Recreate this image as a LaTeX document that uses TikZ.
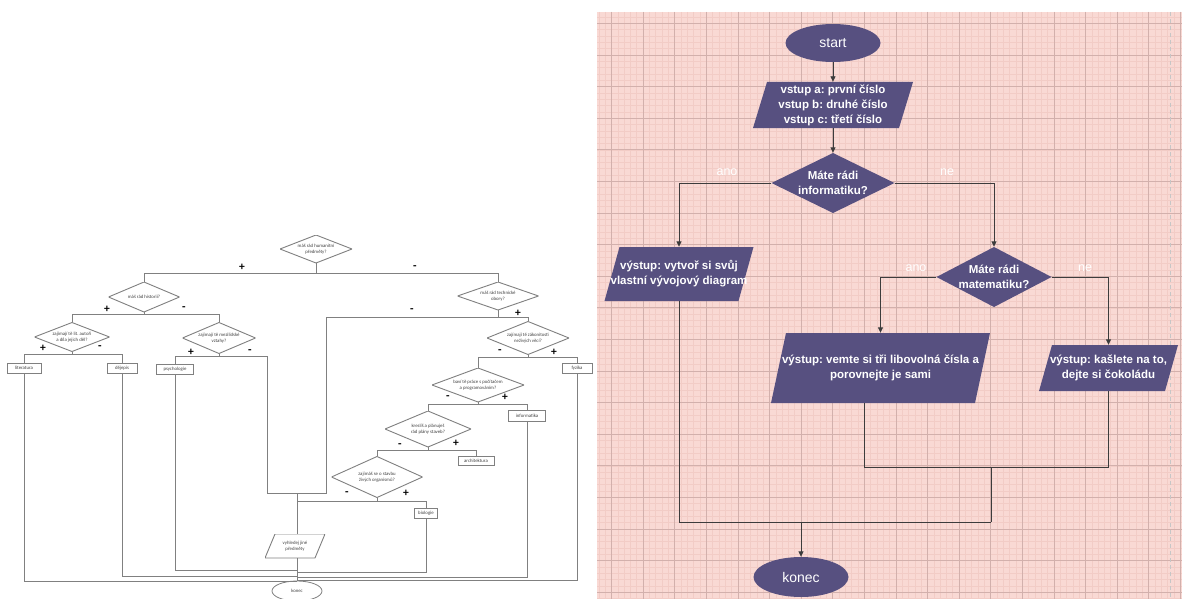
\documentclass[tikz,border=0pt]{standalone}
\usepackage{fontspec}
\setmainfont{Liberation Sans}
\newfontfamily\smallfam{Carlito}
\usetikzlibrary{shapes.geometric,arrows.meta}
\frenchspacing

\definecolor{slate}{HTML}{575080}
\definecolor{gridbg}{HTML}{F9D9D4}
\definecolor{gridminor}{HTML}{F2CCC6}
\definecolor{gridmajor}{HTML}{D2B0AC}
\definecolor{wire}{HTML}{3C3C3C}
\definecolor{lgray}{HTML}{808080}
\definecolor{ltext}{HTML}{404040}

\begin{document}
\begin{tikzpicture}[x=1pt,y=-1pt,
  ioslant/.store in=\iooff, ioslant=14pt,
  % parallelogram drawn inside a plain rectangle node
  para/.style={rectangle, inner sep=0pt, align=center,
    path picture={\path[#1] ([xshift=\iooff]path picture bounding box.north west)
      -- (path picture bounding box.north east)
      -- ([xshift=-\iooff]path picture bounding box.south east)
      -- (path picture bounding box.south west) -- cycle;}},
  % diamond whose tips are the node's compass anchors
  dia/.style={rectangle, inner sep=0pt, align=center,
    path picture={\path[#1] (path picture bounding box.north)
      -- (path picture bounding box.east)
      -- (path picture bounding box.south)
      -- (path picture bounding box.west) -- cycle;}},
  % left chart
  lline/.style={draw=lgray, line width=0.8pt},
  ltxt/.style={font=\smallfam\fontsize{4.8}{5.6}\selectfont, text=ltext},
  ldia/.style={dia={draw=lgray, line width=0.9pt}, ltxt},
  lbox/.style={draw=lgray, line width=0.8pt, inner sep=0pt, minimum height=10pt, ltxt},
  sign/.style={font=\smallfam\bfseries\fontsize{11.5}{11.5}\selectfont, text=black, inner sep=0pt},
  % right chart
  rtxt/.style={text=white, font=\bfseries\fontsize{11.5}{15}\selectfont},
  rdia/.style={dia={fill=slate}, rtxt},
  rpara/.style={para={fill=slate}, rtxt},
  term/.style={ellipse, fill=slate, inner sep=0pt, text=white, font=\fontsize{14}{16}\selectfont},
  wireline/.style={draw=wire, line width=0.9pt},
  arr/.style={wireline, -{Triangle[length=5.5pt,width=5pt]}},
  yn/.style={text=white, font=\fontsize{12.5}{14}\selectfont, inner sep=0pt}
]
\useasboundingbox (0,0) rectangle (1182,599);
\fill[white] (0,0) rectangle (1182,599);

% ---------------- grid paper ----------------
\begin{scope}
  \clip (597,12) rectangle (1182,599);
  \fill[gridbg] (597,12) rectangle (1182,599);
  \foreach \k in {-3,...,92} {\draw[gridminor, line width=0.6pt] ({611.5+6.32*\k},12) -- ({611.5+6.32*\k},599);}
  \foreach \k in {-2,...,92} {\draw[gridminor, line width=0.6pt] (597,{23.4+6.32*\k}) -- (1182,{23.4+6.32*\k});}
  \foreach \k in {-1,...,18} {\draw[gridmajor, line width=0.8pt] ({611.5+31.6*\k},12) -- ({611.5+31.6*\k},599);}
  \foreach \k in {0,...,18} {\draw[gridmajor, line width=0.8pt] (597,{23.4+31.6*\k}) -- (1182,{23.4+31.6*\k});}
  \draw[gray!45, line width=0.8pt, dash pattern=on 4pt off 3pt] (1170,12) -- (1170,599);
\end{scope}

% ---------------- left chart ----------------
\node[ldia, minimum width=72pt, minimum height=28pt] (h1) at (316,249) {máš rád humanitní\\předměty?};
\node[ldia, minimum width=71pt, minimum height=30pt] (h2) at (144,297) {máš rád historii?};
\node[ldia, minimum width=75pt, minimum height=29pt] (h3) at (72,337) {zajímají tě lit. autoři\\a díla jejich děl?};
\node[ldia, minimum width=73pt, minimum height=31pt] (h4) at (219,338) {zajímají tě mezilidské\\vztahy?};
\node[ldia, minimum width=81pt, minimum height=28pt] (t1) at (498,296) {máš rád technické\\obory?};
\node[ldia, minimum width=82pt, minimum height=33pt] (t2) at (528,338) {zajímají tě zákonitosti\\neživých věcí?};
\node[ldia, minimum width=92pt, minimum height=34pt] (t3) at (478,385) {baví tě práce s počítačem\\a programováním?};
\node[ldia, minimum width=86pt, minimum height=36pt] (t4) at (428,429) {kreslíš a plánuješ\\rád plány staveb?};
\node[ldia, minimum width=91pt, minimum height=41pt] (t5) at (377,477) {zajímáš se o stavbu\\živých organismů?};

\node[lbox, minimum width=34pt] (lit) at (24,368) {literatura};
\node[lbox, minimum width=30pt] (dej) at (122,368) {dějepis};
\node[lbox, minimum width=37pt] (psy) at (175,369) {psychologie};
\node[lbox, minimum width=30pt] (fyz) at (577,368) {fyzika};
\node[lbox, minimum width=37pt, minimum height=11pt] (inf) at (527,416) {informatika};
\node[lbox, minimum width=36pt, minimum height=9pt] (arch) at (476,461) {architektura};
\node[lbox, minimum width=23pt] (bio) at (426,513) {biologie};
\node[para={draw=lgray, fill=white, line width=0.9pt}, ioslant=10pt, ltxt,
      minimum width=60pt, minimum height=24pt] (vy) at (295,546) {vyhledej jiné\\předměty};
\node[ellipse, draw=lgray, line width=0.8pt, fill=white, inner sep=0pt,
      minimum width=50pt, minimum height=20pt, ltxt] (lkon) at (297,591) {konec};

% branch points
\coordinate (r1) at (316,273);
\coordinate (r2) at (144,314);
\coordinate (r3) at (72,354);
\coordinate (r4) at (219,356);
\coordinate (r5) at (498,317);
\coordinate (r6) at (528,357);
\coordinate (r7) at (478,404);
\coordinate (r8) at (428,450);
\coordinate (r9) at (377,501);
\coordinate (j1) at (267,493);
\coordinate (j2) at (326,493);
\coordinate (tr) at (297,493);
\coordinate (tr2) at (297,501);
\coordinate (b1) at (297,581);
\coordinate (b2) at (297,576);
\coordinate (b3) at (297,570);
\coordinate (b4) at (297,572);
\coordinate (b5) at (297,577);
\coordinate (b6) at (297,580);

\draw[lline] (h1.south) -- (r1);
\draw[lline] (r1) -| (h2.north);
\draw[lline] (r1) -| (t1.north);
\draw[lline] (h2.south) -- (r2);
\draw[lline] (r2) -| (h3.north);
\draw[lline] (r2) -| (h4.north);
\draw[lline] (h3.south) -- (r3);
\draw[lline] (r3) -| (lit.north);
\draw[lline] (r3) -| (dej.north);
\draw[lline] (h4.south) -- (r4);
\draw[lline] (r4) -| (psy.north);
\draw[lline] (r4) -| (j1) -- (tr);
\draw[lline] (t1.south) -- (r5);
\draw[lline] (r5) -| (j2) -- (tr);
\draw[lline] (r5) -| (t2.north);
\draw[lline] (t2.south) -- (r6);
\draw[lline] (r6) -| (t3.north);
\draw[lline] (r6) -| (fyz.north);
\draw[lline] (t3.south) -- (r7);
\draw[lline] (r7) -| (t4.north);
\draw[lline] (r7) -| (inf.north);
\draw[lline] (t4.south) -- (r8);
\draw[lline] (r8) -| (t5.north);
\draw[lline] (r8) -| (arch.north);
\draw[lline] (t5.south) -- (r9);
\draw[lline] (r9) -| (bio.north);
\draw[lline] (r9) -- (tr2);
\draw[lline] (tr) -- (tr |- vy.north);
\draw[lline] (tr |- vy.south) -- (lkon.north);
\draw[lline] (lit.south) |- (b1);
\draw[lline] (dej.south) |- (b2);
\draw[lline] (psy.south) |- (b3);
\draw[lline] (bio.south) |- (b4);
\draw[lline] (inf.south) |- (b5);
\draw[lline] (fyz.south) |- (b6);

% yes / no marks
\node[sign] (s1p) at (242,267) {+};
\node[sign] (s1m) at (415,268) {-};
\node[sign] (s2p) at (107,309) {+};
\node[sign] (s2m) at (184,309) {-};
\node[sign] (s3p) at (43,348) {+};
\node[sign] (s3m) at (100,348) {-};
\node[sign] (s4p) at (191,352) {+};
\node[sign] (s4m) at (250,352) {-};
\node[sign] (s5m) at (412,311) {-};
\node[sign] (s5p) at (518,313) {+};
\node[sign] (s6m) at (500,352) {-};
\node[sign] (s6p) at (554,352) {+};
\node[sign] (s7m) at (448,398) {-};
\node[sign] (s7p) at (505,397) {+};
\node[sign] (s8m) at (400,446) {-};
\node[sign] (s8p) at (456,443) {+};
\node[sign] (s9m) at (347,494) {-};
\node[sign] (s9p) at (406,493) {+};

% ---------------- right chart ----------------
\node[term, minimum width=95pt, minimum height=38pt] (start) at (833,43) {start};
\node[rpara, ioslant=14pt, minimum width=160pt, minimum height=46pt] (in) at (833,105)
  {vstup a: první číslo\\vstup b: druhé číslo\\vstup c: třetí číslo};
\node[rdia, minimum width=123pt, minimum height=60pt] (q1) at (833,183) {Máte rádi\\informatiku?};
\node[rpara, ioslant=15pt, minimum width=149pt, minimum height=54pt] (out1) at (679,274)
  {výstup: vytvoř si svůj\\vlastní vývojový diagram};
\node[rdia, minimum width=115pt, minimum height=60pt] (q2) at (994,277) {Máte rádi\\matematiku?};
\node[rpara, ioslant=15pt, minimum width=219pt, minimum height=70pt] (out2) at (880.5,368)
  {výstup: vemte si tři libovolná čísla a\\porovnejte je sami};
\node[rpara, ioslant=13pt, minimum width=139pt, minimum height=46pt] (out3) at (1108.5,368)
  {výstup: kašlete na to,\\dejte si čokoládu};
\node[term, minimum width=95pt, minimum height=40pt] (konec) at (801,577) {konec};

\coordinate (m1) at (991,467);
\coordinate (m2) at (991,522);

\draw[arr] (start.south) -- (in.north);
\draw[arr] (in.south) -- (q1.north);
\draw[arr] (q1.west) -| (out1.north);
\draw[arr] (q1.east) -| (q2.north);
\draw[arr] (q2.west) -| (out2.north);
\draw[arr] (q2.east) -| (out3.north);
\draw[wireline] ([xshift=-16.5pt]out2.south) |- (m1);
\draw[wireline] (out3.south) |- (m1);
\draw[wireline] (m1) -- (m2);
\draw[wireline] (out1.south) |- (m2);
\draw[arr] (konec.north |- m2) -- (konec.north);

\node[yn] (yes1) at (727,172) {ano};
\node[yn] (no1) at (947,172) {ne};
\node[yn] (yes2) at (916,268) {ano};
\node[yn] (no2) at (1085,268) {ne};
\end{tikzpicture}
\end{document}
